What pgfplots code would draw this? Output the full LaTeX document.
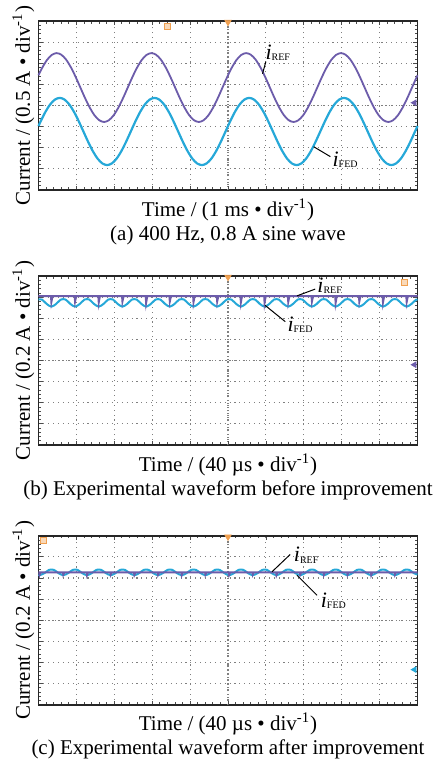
\documentclass[border=0pt]{standalone}
\usepackage{pgfplots}
\pgfplotsset{compat=1.18}
\usepackage{fontspec}
\setmainfont{Liberation Serif}
\definecolor{cref}{RGB}{108,92,170}
\definecolor{cfed}{RGB}{38,168,216}
\definecolor{corg}{RGB}{240,160,80}
\newcommand{\lab}[1]{{\fontsize{11}{11}\selectfont\itshape i}\raisebox{-0.6pt}{\fontsize{5}{5}\selectfont #1}}
\pgfplotsset{
 osc/.style={
  scale only axis, width=189.5pt, height=84.5pt,
  xmin=0,xmax=10,ymin=0,ymax=8,
  xtick={0,...,10}, ytick={0,...,8},
  minor x tick num=4, minor y tick num=4,
  xticklabels={}, yticklabels={},
  tick align=inside, major tick length=2pt, minor tick length=1.3pt,
  every tick/.style={black!70, line width=0.4pt},
  grid=major,
  major grid style={black!50, line width=0.55pt, dash pattern=on 0.55pt off 1.9pt},
  extra x ticks={5}, extra y ticks={4},
  extra x tick labels={}, extra y tick labels={},
  extra tick style={major grid style={black!50, line width=0.55pt, dash pattern=on 0.5pt off 1.2pt}},
  axis line style={black!85, line width=0.9pt},
  clip=false,
  label style={font=\fontsize{10.5}{12}\selectfont},
  xlabel style={at={(axis description cs:0.5,0)}, anchor=north, align=center, inner sep=0pt, yshift=-4pt},
  ylabel style={at={([xshift=-4.25pt]axis description cs:0,0.5)}, anchor=base, inner sep=0pt},
 }
}
\begin{document}
\begin{tikzpicture}
\path[use as bounding box] (-19.25pt,10.5pt) rectangle (200.25pt,-370pt);
% ---------------- (a)
\begin{axis}[osc, at={(0,0)}, anchor=north west,
 xlabel={Time / (1 ms • div\textsuperscript{-1})\\(a) 400 Hz, 0.8 A sine wave},
 ylabel={Current / (0.5 A • div\textsuperscript{-1})}]
\addplot[cfed, line width=1.1pt, smooth] coordinates {
(0,3.029)(0.06,3.261)(0.185,3.705)(0.31,4.056)(0.435,4.282)
(0.56,4.36)(0.685,4.282)(0.81,4.056)(0.935,3.705)(1.06,3.261)(1.185,2.77)(1.31,2.279)(1.435,1.835)(1.56,1.484)(1.685,1.258)(1.81,1.18)(1.935,1.258)(2.06,1.484)(2.185,1.835)(2.31,2.279)(2.435,2.77)(2.56,3.261)(2.685,3.705)(2.81,4.056)(2.935,4.282)
(3.06,4.36)(3.185,4.282)(3.31,4.056)(3.435,3.705)(3.56,3.261)(3.685,2.77)(3.81,2.279)(3.935,1.835)(4.06,1.484)(4.185,1.258)(4.31,1.18)(4.435,1.258)(4.56,1.484)(4.685,1.835)(4.81,2.279)(4.935,2.77)(5.06,3.261)(5.185,3.705)(5.31,4.056)(5.435,4.282)
(5.56,4.36)(5.685,4.282)(5.81,4.056)(5.935,3.705)(6.06,3.261)(6.185,2.77)(6.31,2.279)(6.435,1.835)(6.56,1.484)(6.685,1.258)(6.81,1.18)(6.935,1.258)(7.06,1.484)(7.185,1.835)(7.31,2.279)(7.435,2.77)(7.56,3.261)(7.685,3.705)(7.81,4.056)(7.935,4.282)
(8.06,4.36)(8.185,4.282)(8.31,4.056)(8.435,3.705)(8.56,3.261)(8.685,2.77)(8.81,2.279)(8.935,1.835)(9.06,1.484)(9.185,1.258)(9.31,1.18)(9.435,1.258)(9.56,1.484)(9.685,1.835)(9.81,2.279)(9.935,2.77)
(10,3.029)};
\addplot[cref, line width=0.9pt, smooth] coordinates {
(0,5.431)(0.105,5.808)(0.23,6.169)(0.355,6.400)
(0.48,6.48)(0.605,6.400)(0.73,6.169)(0.855,5.808)(0.98,5.354)(1.105,4.85)(1.23,4.346)(1.355,3.892)(1.48,3.531)(1.605,3.300)(1.73,3.22)(1.855,3.300)(1.98,3.531)(2.105,3.892)(2.23,4.346)(2.355,4.85)(2.48,5.354)(2.605,5.808)(2.73,6.169)(2.855,6.400)
(2.98,6.48)(3.105,6.400)(3.23,6.169)(3.355,5.808)(3.48,5.354)(3.605,4.85)(3.73,4.346)(3.855,3.892)(3.98,3.531)(4.105,3.300)(4.23,3.22)(4.355,3.300)(4.48,3.531)(4.605,3.892)(4.73,4.346)(4.855,4.85)(4.98,5.354)(5.105,5.808)(5.23,6.169)(5.355,6.400)
(5.48,6.48)(5.605,6.400)(5.73,6.169)(5.855,5.808)(5.98,5.354)(6.105,4.85)(6.23,4.346)(6.355,3.892)(6.48,3.531)(6.605,3.300)(6.73,3.22)(6.855,3.300)(6.98,3.531)(7.105,3.892)(7.23,4.346)(7.355,4.85)(7.48,5.354)(7.605,5.808)(7.73,6.169)(7.855,6.400)
(7.98,6.48)(8.105,6.400)(8.23,6.169)(8.355,5.808)(8.48,5.354)(8.605,4.85)(8.73,4.346)(8.855,3.892)(8.98,3.531)(9.105,3.300)(9.23,3.22)(9.355,3.300)(9.48,3.531)(9.605,3.892)(9.73,4.346)(9.855,4.85)(9.98,5.354)
(10,5.431)};
\draw[black, line width=0.5pt] (axis cs:6.0,6.08) -- (axis cs:5.91,5.5);
\node[anchor=base west, inner sep=0pt] at (axis cs:5.98,6.19) {\lab{REF}};
\draw[black, line width=0.5pt] (axis cs:7.70,1.58) -- (axis cs:7.26,2.05);
\node[anchor=base west, inner sep=0pt] at (axis cs:7.75,1.1) {\lab{FED}};
\addplot[only marks, mark=triangle*, mark size=1.8pt, mark options={rotate=180, fill=corg, draw=corg}] coordinates {(5,7.95)};
\addplot[only marks, mark=square*, mark size=1.5pt, mark options={fill=corg!40, draw=corg}] coordinates {(3.4,7.75)};
\addplot[only marks, mark=triangle*, mark size=1.6pt, mark options={rotate=90, fill=cref, draw=cref}] coordinates {(9.92,4.13)};
\end{axis}
% ---------------- (b)
\begin{axis}[osc, at={(0,-127.5pt)}, anchor=north west,
 xlabel={Time / (40 µs • div\textsuperscript{-1})\\(b) Experimental waveform before improvement},
 ylabel={Current / (0.2 A • div\textsuperscript{-1})}]
\addplot[cfed, line width=1pt, smooth] coordinates {
(0,6.885)(0.09,6.885)(0.215,6.678)
(0.34,6.55)(0.465,6.678)(0.59,6.885)(0.715,6.885)(0.84,6.678)
(0.965,6.55)(1.09,6.678)(1.215,6.885)(1.34,6.885)(1.465,6.678)
(1.59,6.55)(1.715,6.678)(1.84,6.885)(1.965,6.885)(2.09,6.678)
(2.215,6.55)(2.34,6.678)(2.465,6.885)(2.59,6.885)(2.715,6.678)
(2.84,6.55)(2.965,6.678)(3.09,6.885)(3.215,6.885)(3.34,6.678)
(3.465,6.55)(3.59,6.678)(3.715,6.885)(3.84,6.885)(3.965,6.678)
(4.09,6.55)(4.215,6.678)(4.34,6.885)(4.465,6.885)(4.59,6.678)
(4.715,6.55)(4.84,6.678)(4.965,6.885)(5.09,6.885)(5.215,6.678)
(5.34,6.55)(5.465,6.678)(5.59,6.885)(5.715,6.885)(5.84,6.678)
(5.965,6.55)(6.09,6.678)(6.215,6.885)(6.34,6.885)(6.465,6.678)
(6.59,6.55)(6.715,6.678)(6.84,6.885)(6.965,6.885)(7.09,6.678)
(7.215,6.55)(7.34,6.678)(7.465,6.885)(7.59,6.885)(7.715,6.678)
(7.84,6.55)(7.965,6.678)(8.09,6.885)(8.215,6.885)(8.34,6.678)
(8.465,6.55)(8.59,6.678)(8.715,6.885)(8.84,6.885)(8.965,6.678)
(9.09,6.55)(9.215,6.678)(9.34,6.885)(9.465,6.885)(9.59,6.678)
(9.715,6.55)(9.84,6.678)(9.965,6.885)(10,6.885)};
\addplot[cref, line width=1pt] coordinates {
(0,7.05)
(0.33,7.05)(0.34,6.78)(0.37,7.05)
(0.955,7.05)(0.965,6.80)(0.995,7.05)
(1.58,7.05)(1.59,6.76)(1.62,7.05)
(2.205,7.05)(2.215,6.80)(2.245,7.05)
(2.83,7.05)(2.84,6.74)(2.87,7.05)
(3.455,7.05)(3.465,6.80)(3.495,7.05)
(4.08,7.05)(4.09,6.77)(4.12,7.05)
(4.705,7.05)(4.715,6.80)(4.745,7.05)
(5.33,7.05)(5.34,6.76)(5.37,7.05)
(5.955,7.05)(5.965,6.74)(5.995,7.05)
(6.58,7.05)(6.59,6.78)(6.62,7.05)
(7.205,7.05)(7.215,6.80)(7.245,7.05)
(7.83,7.05)(7.84,6.74)(7.87,7.05)
(8.455,7.05)(8.465,6.80)(8.495,7.05)
(9.08,7.05)(9.09,6.76)(9.12,7.05)
(9.705,7.05)(9.715,6.78)(9.745,7.05)
(10,7.05)};
\draw[black, line width=0.5pt] (axis cs:7.3,7.38) -- (axis cs:6.82,7.06);
\node[anchor=base west, inner sep=0pt] at (axis cs:7.35,7.22) {\lab{REF}};
\draw[black, line width=0.5pt] (axis cs:6.51,5.84) -- (axis cs:5.98,6.61);
\node[anchor=base west, inner sep=0pt] at (axis cs:6.56,5.37) {\lab{FED}};
\addplot[only marks, mark=triangle*, mark size=1.8pt, mark options={rotate=180, fill=corg, draw=corg}] coordinates {(5,7.95)};
\addplot[only marks, mark=square*, mark size=1.5pt, mark options={fill=corg!40, draw=corg}] coordinates {(9.66,7.72)};
\addplot[only marks, mark=triangle*, mark size=1.6pt, mark options={rotate=90, fill=cref, draw=cref}] coordinates {(9.92,3.8)};
\end{axis}
% ---------------- (c)
\begin{axis}[osc, at={(0,-257.35pt)}, anchor=north west,
 xlabel={Time / (40 µs • div\textsuperscript{-1})\\(c) Experimental waveform after improvement},
 ylabel={Current / (0.2 A • div\textsuperscript{-1})}]
\addplot[cfed, line width=1pt, smooth] coordinates {
(0,6.15)
(0.03,6.13)(0.155,6.227)(0.28,6.383)(0.405,6.383)(0.53,6.227)
(0.655,6.13)(0.78,6.227)(0.905,6.383)(1.03,6.383)(1.155,6.227)
(1.28,6.13)(1.405,6.227)(1.53,6.383)(1.655,6.383)(1.78,6.227)
(1.905,6.13)(2.03,6.227)(2.155,6.383)(2.28,6.383)(2.405,6.227)
(2.53,6.13)(2.655,6.227)(2.78,6.383)(2.905,6.383)(3.03,6.227)
(3.155,6.13)(3.28,6.227)(3.405,6.383)(3.53,6.383)(3.655,6.227)
(3.78,6.13)(3.905,6.227)(4.03,6.383)(4.155,6.383)(4.28,6.227)
(4.405,6.13)(4.53,6.227)(4.655,6.383)(4.78,6.383)(4.905,6.227)
(5.03,6.13)(5.155,6.227)(5.28,6.383)(5.405,6.383)(5.53,6.227)
(5.655,6.13)(5.78,6.227)(5.905,6.383)(6.03,6.383)(6.155,6.227)
(6.28,6.13)(6.405,6.227)(6.53,6.383)(6.655,6.383)(6.78,6.227)
(6.905,6.13)(7.03,6.227)(7.155,6.383)(7.28,6.383)(7.405,6.227)
(7.53,6.13)(7.655,6.227)(7.78,6.383)(7.905,6.383)(8.03,6.227)
(8.155,6.13)(8.28,6.227)(8.405,6.383)(8.53,6.383)(8.655,6.227)
(8.78,6.13)(8.905,6.227)(9.03,6.383)(9.155,6.383)(9.28,6.227)
(9.405,6.13)(9.53,6.227)(9.655,6.383)(9.78,6.383)(9.905,6.227)
(10,6.16)};
\addplot[cref, line width=1pt] coordinates {
(0,6.27)
(0.02,6.27)(0.03,6.15)(0.06,6.27)
(0.645,6.27)(0.655,6.16)(0.685,6.27)
(1.27,6.27)(1.28,6.14)(1.31,6.27)
(1.895,6.27)(1.905,6.16)(1.935,6.27)
(2.52,6.27)(2.53,6.15)(2.56,6.27)
(3.145,6.27)(3.155,6.16)(3.185,6.27)
(3.77,6.27)(3.78,6.14)(3.81,6.27)
(4.395,6.27)(4.405,6.16)(4.435,6.27)
(5.02,6.27)(5.03,6.15)(5.06,6.27)
(5.645,6.27)(5.655,6.16)(5.685,6.27)
(6.27,6.27)(6.28,6.14)(6.31,6.27)
(6.895,6.27)(6.905,6.16)(6.935,6.27)
(7.52,6.27)(7.53,6.15)(7.56,6.27)
(8.145,6.27)(8.155,6.16)(8.185,6.27)
(8.77,6.27)(8.78,6.14)(8.81,6.27)
(9.395,6.27)(9.405,6.16)(9.435,6.27)
(10,6.27)};
\draw[black, line width=0.5pt] (axis cs:6.64,7.11) -- (axis cs:6.16,6.29);
\node[anchor=base west, inner sep=0pt] at (axis cs:6.73,6.76) {\lab{REF}};
\draw[black, line width=0.5pt] (axis cs:7.35,5.18) -- (axis cs:6.82,6.13);
\node[anchor=base west, inner sep=0pt] at (axis cs:7.44,4.62) {\lab{FED}};
\addplot[only marks, mark=triangle*, mark size=1.8pt, mark options={rotate=180, fill=corg, draw=corg}] coordinates {(5,7.95)};
\addplot[only marks, mark=square*, mark size=1.5pt, mark options={fill=corg!40, draw=corg}] coordinates {(0.12,7.8)};
\addplot[only marks, mark=triangle*, mark size=1.6pt, mark options={rotate=90, fill=cfed, draw=cfed}] coordinates {(9.92,1.66)};
\end{axis}
\end{tikzpicture}
\end{document}
